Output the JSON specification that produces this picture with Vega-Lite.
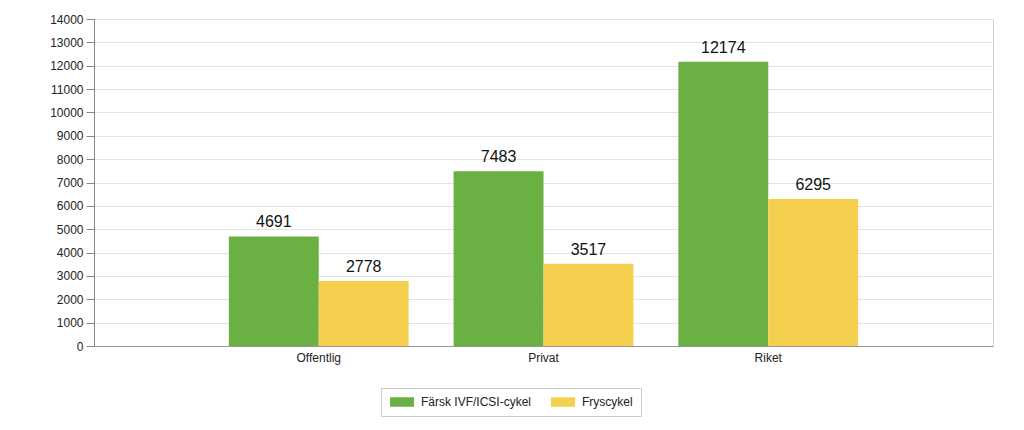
{
  "$schema": "https://vega.github.io/schema/vega-lite/v6.json",
  "width": 899,
  "height": 327,
  "autosize": {"type": "none"},
  "padding": {"left": 94, "top": 19, "right": 31, "bottom": 84},
  "background": "white",
  "config": {
    "font": "Liberation Sans",
    "view": {"stroke": "#d0d0d0", "strokeWidth": 1}
  },
  "data": {
    "values": [
      {"grupp": "Offentlig", "typ": "Färsk IVF/ICSI-cykel", "antal": 4691},
      {"grupp": "Offentlig", "typ": "Fryscykel", "antal": 2778},
      {"grupp": "Privat", "typ": "Färsk IVF/ICSI-cykel", "antal": 7483},
      {"grupp": "Privat", "typ": "Fryscykel", "antal": 3517},
      {"grupp": "Riket", "typ": "Färsk IVF/ICSI-cykel", "antal": 12174},
      {"grupp": "Riket", "typ": "Fryscykel", "antal": 6295}
    ]
  },
  "encoding": {
    "x": {
      "field": "grupp",
      "type": "nominal",
      "sort": ["Offentlig", "Privat", "Riket"],
      "scale": {"paddingInner": 0.2, "paddingOuter": 0.6},
      "axis": {
        "title": null,
        "labelAngle": 0,
        "labelFontSize": 12,
        "labelColor": "#222",
        "ticks": false,
        "labelPadding": 6,
        "domainColor": "#999",
        "grid": false
      }
    },
    "xOffset": {"field": "typ", "type": "nominal", "sort": ["Färsk IVF/ICSI-cykel", "Fryscykel"]},
    "y": {
      "field": "antal",
      "type": "quantitative",
      "scale": {"domain": [0, 14000]},
      "axis": {
        "title": null,
        "values": [0,1000,2000,3000,4000,5000,6000,7000,8000,9000,10000,11000,12000,13000,14000],
        "format": "d",
        "labelFontSize": 12,
        "labelColor": "#222",
        "tickColor": "#888",
        "tickSize": 8,
        "labelPadding": 3,
        "domainColor": "#888",
        "gridColor": "#e3e3e3"
      }
    }
  },
  "layer": [
    {
      "mark": {"type": "bar"},
      "encoding": {
        "color": {
          "field": "typ",
          "type": "nominal",
          "sort": ["Färsk IVF/ICSI-cykel", "Fryscykel"],
          "scale": {"domain": ["Färsk IVF/ICSI-cykel", "Fryscykel"], "range": ["#6ab042", "#f5d04f"]},
          "legend": {
            "title": null,
            "orient": "none",
            "direction": "horizontal",
            "legendX": 287,
            "legendY": 369,
            "symbolType": "M-2.4,-0.95H2.4V0.95H-2.4Z",
            "symbolSize": 100,
            "symbolOffset": 7,
            "symbolStrokeWidth": 0,
            "symbolOpacity": 1,
            "labelFontSize": 12,
            "labelColor": "#222",
            "labelOffset": 13,
            "columnPadding": 18,
            "strokeColor": "#cccccc",
            "padding": 8,
            "fillColor": "white"
          }
        }
      }
    },
    {
      "mark": {"type": "text", "dy": -9, "fontSize": 16, "color": "#111", "baseline": "alphabetic"},
      "encoding": {"text": {"field": "antal", "type": "quantitative", "format": "d"}}
    }
  ]
}
